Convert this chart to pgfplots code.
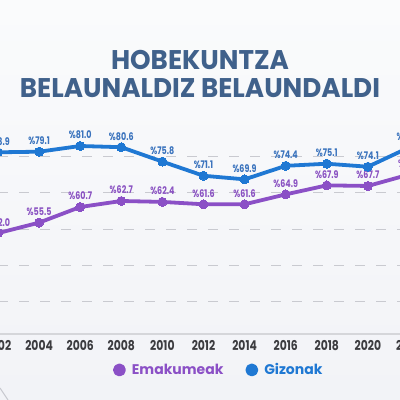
\documentclass[border=0pt]{standalone}
\usepackage{pgfplots}
\pgfplotsset{compat=1.18}
\usepackage{fontspec}
\setmainfont{Poppins}
\newfontfamily\titlefont[FakeStretch=0.97]{Poppins}
\newfontfamily\tickfont[FakeStretch=0.8]{Poppins}
\newfontfamily\labfont[FakeStretch=0.76]{Poppins}
\newfontfamily\legfont[FakeStretch=1.0]{Poppins}
\definecolor{bgc}{RGB}{242,243,247}
\definecolor{bgtop}{RGB}{250,251,252}
\definecolor{titlec}{RGB}{64,97,139}
\definecolor{bluec}{RGB}{31,120,211}
\definecolor{bluelab}{RGB}{58,115,189}
\definecolor{purc}{RGB}{139,80,198}
\definecolor{purlab}{RGB}{138,82,194}
\definecolor{tickc}{RGB}{60,60,64}
\definecolor{gridc}{RGB}{201,202,208}
\definecolor{axisc}{RGB}{213,214,218}
\begin{document}
\begin{tikzpicture}
\useasboundingbox (0pt,0pt) rectangle (400pt,400pt);
\clip (0pt,0pt) rectangle (400pt,400pt);
\shade[top color=bgtop, bottom color=bgc] (0pt,0pt) rectangle (400pt,400pt);
\draw[gridc,line width=1pt] (0pt,12pt) -- (8pt,0pt);
\node[font=\titlefont\bfseries\fontsize{27}{28}\selectfont, text=titlec, align=center] at (200pt,326pt) {HOBEKUNTZA\\BELAUNALDIZ BELAUNDALDI};
\begin{axis}[
  at={(-22.55pt,66pt)}, anchor=south west,
  scale only axis, width=452.1pt, height=214pt,
  xmin=2001, xmax=2023, ymin=18.44, ymax=89.65,
  clip=false,
  axis line style={draw=none},
  major tick length=0pt,
  xtick={2002,2004,2006,2008,2010,2012,2014,2016,2018,2020,2022},
  xticklabels={2002,2004,2006,2008,2010,2012,2014,2016,2018,2020,2022},
  xticklabel style={font=\tickfont\bfseries\fontsize{13.5}{14}\selectfont, text=tickc, yshift=-3pt},
  ytick={29.41,41.39,53.37,65.52,77.67},
  yticklabels={},
  ymajorgrids,
  grid style={dash pattern=on 10pt off 11pt, color=gridc, line width=1pt},
  legend columns=2,
  legend style={at={(0.5338,-0.168)}, anchor=center, draw=none, fill=none,
    /tikz/every even column/.append style={column sep=20pt}},
  legend image code/.code={\fill[#1] (0pt,0pt) circle (4.5pt);},
]
\draw[axisc, line width=1.3pt] (axis cs:2001,18.44) -- (axis cs:2023,18.44);
\addplot[purc, line width=3.8pt, line join=round, mark=*, mark size=4.5pt,
  mark options={fill=purc, draw=purc, line width=0pt},
  nodes near coords, point meta=explicit symbolic,
  every node near coord/.style={font=\labfont\bfseries\fontsize{10.5}{11}\selectfont, text=purlab, anchor=south, inner sep=0pt, yshift=7pt}]
coordinates {(2002,52.0)[\%52.0] (2004,55.5)[\%55.5] (2006,60.7)[\%60.7] (2008,62.7)[\%62.7] (2010,62.4)[\%62.4] (2012,61.6)[\%61.6] (2014,61.6)[\%61.6] (2016,64.9)[\%64.9] (2018,67.9)[\%67.9] (2020,67.7)[\%67.7] (2022,71.5)[\%71.5]};
\addlegendentry{\hspace{4pt}\legfont\bfseries\fontsize{14}{15}\selectfont\textcolor{purc}{Emakumeak}}
\addplot[bluec, line width=3.8pt, line join=round, mark=*, mark size=4.5pt,
  mark options={fill=bluec, draw=bluec, line width=0pt},
  nodes near coords, point meta=explicit symbolic,
  every node near coord/.style={font=\labfont\bfseries\fontsize{10.5}{11}\selectfont, text=bluelab, anchor=south, inner sep=0pt, yshift=7pt}]
coordinates {(2002,78.9)[\%78.9] (2004,79.1)[\%79.1] (2006,81.0)[\%81.0] (2008,80.6)[\%80.6] (2010,75.8)[\%75.8] (2012,71.1)[\%71.1] (2014,69.9)[\%69.9] (2016,74.4)[\%74.4] (2018,75.1)[\%75.1] (2020,74.1)[\%74.1] (2022,80.5)[\%80.5]};
\addlegendentry{\hspace{4pt}\legfont\bfseries\fontsize{14}{15}\selectfont\textcolor{bluec}{Gizonak}}
\end{axis}
\end{tikzpicture}
\end{document}
